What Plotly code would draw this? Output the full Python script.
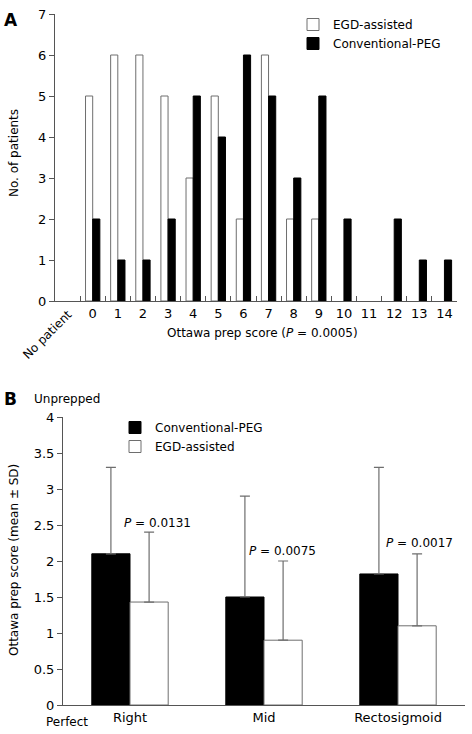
import plotly.graph_objects as go

# ---------- Data: panel A ----------
scores_a = ["NP", "0", "1", "2", "3", "4", "5", "6", "7", "8", "9", "10", "11", "12", "13", "14"]
tick_text_a = [" ", "0", "1", "2", "3", "4", "5", "6", "7", "8", "9", "10", "11", "12", "13", "14"]
egd_counts = [0, 5, 6, 6, 5, 3, 5, 2, 6, 2, 2, 0, 0, 0, 0, 0]
conv_counts = [0, 2, 1, 1, 2, 5, 4, 6, 5, 3, 5, 2, 0, 2, 1, 1]

# ---------- Data: panel B ----------
segments_b = ["Right", "Mid", "Rectosigmoid"]
conv_mean = [2.1, 1.5, 1.82]
conv_sd = [1.2, 1.4, 1.48]
egd_mean = [1.43, 0.9, 1.1]
egd_sd = [0.97, 1.1, 1.0]
p_values = ["0.0131", "0.0075", "0.0017"]
y_ticks_b = [0, 0.5, 1, 1.5, 2, 2.5, 3, 3.5, 4]

W, H = 472, 734
FONT = "DejaVu Sans"


def px(x):
    return x / W


def py(y):
    return 1 - y / H


def nz(vals):
    # zero-count bins are drawn as no bar at all
    return [v if v else None for v in vals]


fig = go.Figure()

white_line = dict(color="#6e6e6e", width=1)

# Panel A
fig.add_trace(go.Bar(x=scores_a, y=nz(egd_counts), name="EGD-assisted",
                     marker=dict(color="white", line=white_line),
                     xaxis="x", yaxis="y", legend="legend", legendgroup="a1"))
fig.add_trace(go.Bar(x=scores_a, y=nz(conv_counts), name="Conventional-PEG",
                     marker=dict(color="black", line=dict(color="black", width=1)),
                     xaxis="x", yaxis="y", legend="legend", legendgroup="a2"))

# Panel B
fig.add_trace(go.Bar(x=segments_b, y=conv_mean, name="Conventional-PEG",
                     marker=dict(color="black", line=dict(color="black", width=1)),
                     error_y=dict(type="data", array=conv_sd, arrayminus=[0] * 3,
                                  symmetric=False, color="#6e6e6e", thickness=1.2, width=5),
                     xaxis="x2", yaxis="y2", legend="legend2", legendgroup="b1"))
fig.add_trace(go.Bar(x=segments_b, y=egd_mean, name="EGD-assisted",
                     marker=dict(color="white", line=white_line),
                     error_y=dict(type="data", array=egd_sd, arrayminus=[0] * 3,
                                  symmetric=False, color="#6e6e6e", thickness=1.2, width=5),
                     xaxis="x2", yaxis="y2", legend="legend2", legendgroup="b2"))

axis_line = dict(showline=True, linecolor="#555", linewidth=1, showgrid=False,
                 zeroline=False, tickcolor="#555", automargin=False)

annotations = []
# P annotations in panel B
p_pos = [(122, 523), (247, 551), (384, 543)]
for (xx, yy), p in zip(p_pos, p_values):
    annotations.append(dict(x=px(xx), y=py(yy), xref="paper", yref="paper",
                            text="<i>P</i> = " + p, showarrow=False,
                            xanchor="left", yanchor="middle",
                            font=dict(family=FONT, size=12, color="black")))

annotations += [
    dict(x=px(2), y=py(20), xref="paper", yref="paper", text="<b>A</b>", showarrow=False,
         xanchor="left", yanchor="middle", font=dict(family=FONT, size=17, color="black")),
    dict(x=px(2), y=py(399), xref="paper", yref="paper", text="<b>B</b>", showarrow=False,
         xanchor="left", yanchor="middle", font=dict(family=FONT, size=17, color="black")),
    dict(x=px(32), y=py(399), xref="paper", yref="paper", text="Unprepped", showarrow=False,
         xanchor="left", yanchor="middle", font=dict(family=FONT, size=12, color="black")),
    dict(x=px(44), y=py(722), xref="paper", yref="paper", text="Perfect", showarrow=False,
         xanchor="left", yanchor="middle", font=dict(family=FONT, size=12, color="black")),
    dict(x=px(14), y=py(153), xref="paper", yref="paper", text="No. of patients", showarrow=False,
         textangle=-90, xanchor="center", yanchor="middle", font=dict(family=FONT, size=12, color="black")),
    dict(x=px(14), y=py(560), xref="paper", yref="paper", text="Ottawa prep score (mean ± SD)",
         showarrow=False, textangle=-90, xanchor="center", yanchor="middle",
         font=dict(family=FONT, size=12, color="black")),
    dict(x=px(262), y=py(333), xref="paper", yref="paper", text="Ottawa prep score (<i>P</i> = 0.0005)",
         showarrow=False, xanchor="center", yanchor="middle", font=dict(family=FONT, size=12, color="black")),
    dict(x=px(47), y=py(335), xref="paper", yref="paper", text="No patient", showarrow=False,
         textangle=-45, xanchor="center", yanchor="middle", font=dict(family=FONT, size=12, color="black")),
]

tick_font = dict(family=FONT, size=13, color="black")

fig.update_layout(
    width=W, height=H,
    margin=dict(l=0, r=0, t=0, b=0, autoexpand=False),
    paper_bgcolor="white", plot_bgcolor="white",
    barmode="group", bargap=0.43, bargroupgap=0,
    font=dict(family=FONT, size=12, color="black"),
    xaxis=dict(domain=[px(55), px(457)], anchor="y", type="category",
               categoryorder="array", categoryarray=scores_a,
               tickmode="array", tickvals=scores_a, ticktext=tick_text_a,
               tickangle=0, tickfont=tick_font,
               tickson="boundaries", ticks="inside", ticklen=5, **axis_line),
    yaxis=dict(domain=[py(301), py(14)], anchor="x", range=[0, 7], dtick=1,
               tickfont=tick_font, ticks="outside", ticklen=5, **axis_line),
    xaxis2=dict(domain=[px(63), px(465)], anchor="y2", type="category",
                categoryorder="array", categoryarray=segments_b, ticks="",
                tickangle=0, tickfont=tick_font, **axis_line),
    yaxis2=dict(domain=[py(705), py(417)], anchor="x2", range=[0, 4],
                tickmode="array", tickvals=y_ticks_b, ticktext=[f"{v:g}" for v in y_ticks_b],
                tickfont=tick_font, ticks="outside", ticklen=5, **axis_line),
    legend=dict(x=px(293), y=py(10), xanchor="left", yanchor="top",
                font=dict(family=FONT, size=12, color="black"),
                bgcolor="rgba(0,0,0,0)", tracegroupgap=3, traceorder="normal"),
    legend2=dict(x=px(115), y=py(413), xanchor="left", yanchor="top",
                 font=dict(family=FONT, size=12, color="black"),
                 bgcolor="rgba(0,0,0,0)", tracegroupgap=3, traceorder="normal"),
    annotations=annotations,
    showlegend=True,
)

fig.write_html("out.html", config={"displayModeBar": False},
               post_script="document.body.style.margin='0';document.body.style.overflow='hidden';")
